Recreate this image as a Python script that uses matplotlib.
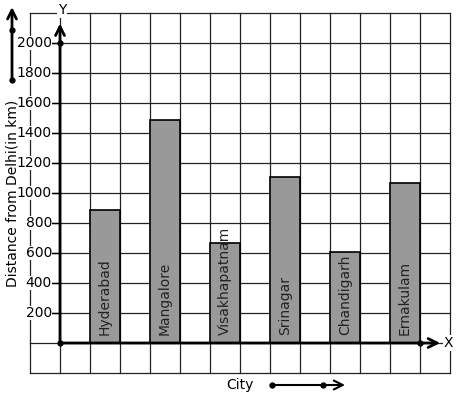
import matplotlib.pyplot as plt

cities = ['Hyderabad', 'Mangalore', 'Visakhapatnam', 'Srinagar', 'Chandigarh', 'Ernakulam']
distances = [890, 1490, 665, 1110, 610, 1070]
yticks = [200, 400, 600, 800, 1000, 1200, 1400, 1600, 1800, 2000]

fig = plt.figure(figsize=(4.57, 3.99), dpi=100)
ax = fig.add_axes([0, 0, 1, 1])
ax.set_xlim(-2, 13.233)
ax.set_ylim(-373.3, 2286.7)
ax.axis('off')

# graph paper
for gx in range(-1, 14):
    ax.plot([gx, gx], [-200, 2200], color='#222222', lw=0.9, zorder=1)
for gy in range(-200, 2201, 200):
    ax.plot([-1, 13], [gy, gy], color='#222222', lw=0.9, zorder=1)

# bars
pos = [1.5 + 2 * i for i in range(len(cities))]
ax.bar(pos, distances, width=1, color='#999999', edgecolor='black', lw=1.2, zorder=2)
for p, c in zip(pos, cities):
    ax.text(p, 55, c, rotation=90, ha='center', va='bottom', fontsize=10,
            color='#222222', zorder=4)

# axes with arrows
ax.annotate('', xy=(0, 2130), xytext=(0, 0),
            arrowprops=dict(arrowstyle='->', lw=2, color='black', mutation_scale=16,
                            shrinkA=0, shrinkB=0), zorder=5)
ax.annotate('', xy=(12.67, 0), xytext=(0, 0),
            arrowprops=dict(arrowstyle='->', lw=2, color='black', mutation_scale=16,
                            shrinkA=0, shrinkB=0), zorder=5)
ax.plot([0, 0, 12], [0, 2000, 0], 'o', color='black', ms=3.5, zorder=6)
ax.text(0.07, 2220, 'Y', ha='center', va='center', fontsize=10,
        bbox=dict(facecolor='white', edgecolor='none', pad=0.5), zorder=6)
ax.text(12.95, 0, 'X', ha='center', va='center', fontsize=10,
        bbox=dict(facecolor='white', edgecolor='none', pad=0.5), zorder=6)

# y ticks
for t in yticks:
    ax.plot([-0.27, 0], [t, t], color='black', lw=1, zorder=5)
    ax.text(-0.27, t, str(t), ha='right', va='center', fontsize=10,
            bbox=dict(facecolor='white', edgecolor='none', pad=0.3), zorder=5)

# axis titles with decorative arrows
ax.text(-1.6, 1000, 'Distance from Delhi(in km)', rotation=90, ha='center', va='center',
        fontsize=10, zorder=5)
ax.annotate('', xy=(-1.6, 2240), xytext=(-1.6, 1753),
            arrowprops=dict(arrowstyle='->', lw=2, color='black', mutation_scale=16,
                            shrinkA=0, shrinkB=0))
ax.plot([-1.6, -1.6], [2087, 1753], 'o', color='black', ms=3.5)

ax.text(6.0, -280, 'City', ha='center', va='center', fontsize=10)
ax.annotate('', xy=(9.5, -280), xytext=(7.07, -280),
            arrowprops=dict(arrowstyle='->', lw=1.5, color='black', mutation_scale=16,
                            shrinkA=0, shrinkB=0))
ax.plot([7.07, 8.77], [-280, -280], 'o', color='black', ms=3.5)

fig.savefig('out.png', dpi=100)
